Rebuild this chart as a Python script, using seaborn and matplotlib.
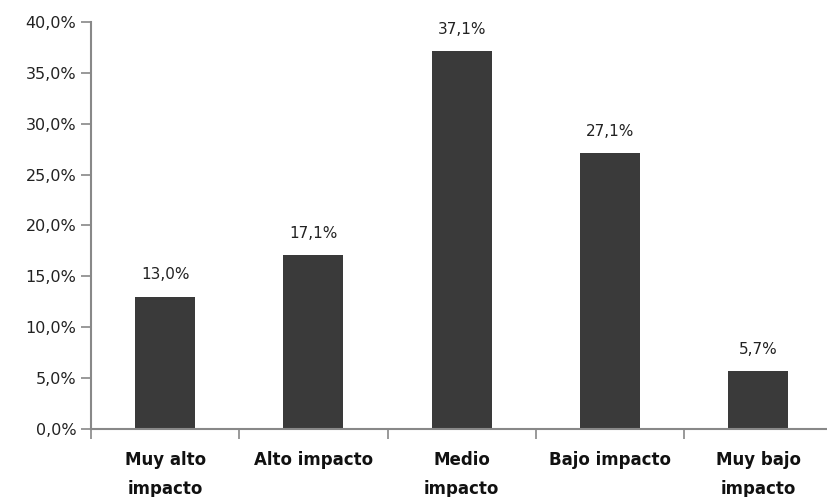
import numpy as np
import pandas as pd
import matplotlib
matplotlib.use("Agg")
import matplotlib.pyplot as plt
import seaborn as sns
from matplotlib.ticker import FuncFormatter, FixedLocator

# Données
categorias = ["Muy alto\nimpacto", "Alto impacto", "Medio\nimpacto", "Bajo impacto", "Muy bajo\nimpacto"]
valores = [13.0, 17.1, 37.1, 27.1, 5.7]

df = pd.DataFrame({"categoria": categorias, "valor": valores})

sns.set_style("white")
fig = plt.figure(figsize=(8.28, 4.97), dpi=100)
ax = fig.add_axes([0.110, 0.137, 0.895, 0.819])

sns.barplot(data=df, x="categoria", y="valor", color="#3a3a3a", saturation=1,
            width=0.405, linewidth=0, edgecolor="none", ax=ax)

# Etiquetas de valor
for i, v in enumerate(valores):
    ax.text(i, v + 1.4, f"{v:.1f}%".replace(".", ","), ha="center", va="bottom",
            fontsize=11, color="#222222")

ax.set_ylim(0, 40)
ax.set_xlim(-0.5, 4.5)
ax.set_yticks(np.arange(0, 41, 5))
ax.yaxis.set_major_formatter(FuncFormatter(lambda y, _: f"{y:.1f}%".replace(".", ",")))
ax.tick_params(axis="y", direction="out", length=7, width=1.2, color="#888888",
               labelsize=11.5, labelcolor="#222222", left=True)

# Marcas entre categorías, etiquetas centradas
ax.xaxis.set_major_locator(FixedLocator(np.arange(-0.5, 5, 1)))
ax.xaxis.set_minor_locator(FixedLocator(np.arange(0, 5, 1)))
ax.set_xticklabels([], minor=False)
ax.set_xticklabels(categorias, minor=True, fontweight="bold", fontsize=12,
                   linespacing=1.75)
ax.tick_params(axis="x", which="major", direction="out", length=7, width=1.2,
               color="#888888", bottom=True)
ax.tick_params(axis="x", which="minor", length=0, pad=16, labelcolor="#111111")

for s in ["top", "right"]:
    ax.spines[s].set_visible(False)
for s in ["left", "bottom"]:
    ax.spines[s].set_color("#888888")
    ax.spines[s].set_linewidth(1.5)

ax.set_xlabel("")
ax.set_ylabel("")

fig.savefig("out.png", dpi=100)
